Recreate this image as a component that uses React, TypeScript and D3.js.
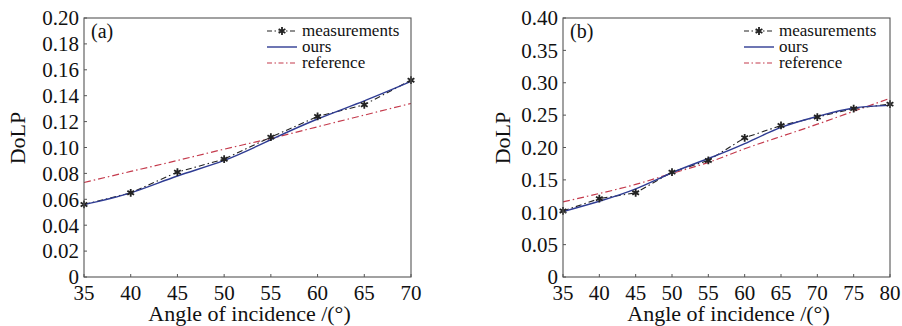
import React from 'react';
import * as d3 from 'd3';

// panel (a)
const anglesA = [35, 40, 45, 50, 55, 60, 65, 70];
const measA = [0.056, 0.065, 0.081, 0.091, 0.108, 0.124, 0.133, 0.152];
const oursA = [0.056, 0.065, 0.078, 0.09, 0.106, 0.122, 0.136, 0.151];
const refA = [0.073, 0.0815, 0.09, 0.0987, 0.107, 0.116, 0.125, 0.134];
const yTicksA = [0, 0.02, 0.04, 0.06, 0.08, 0.1, 0.12, 0.14, 0.16, 0.18, 0.2];

// panel (b)
const anglesB = [35, 40, 45, 50, 55, 60, 65, 70, 75, 80];
const measB = [0.102, 0.121, 0.13, 0.162, 0.18, 0.215, 0.234, 0.247, 0.26, 0.267];
const oursB = [0.101, 0.117, 0.136, 0.161, 0.183, 0.206, 0.231, 0.248, 0.261, 0.265];
const refB = [0.116, 0.129, 0.143, 0.16, 0.177, 0.198, 0.217, 0.236, 0.256, 0.276];
const yTicksB = [0, 0.05, 0.1, 0.15, 0.2, 0.25, 0.3, 0.35, 0.4];

const seriesNames = ['measurements', 'ours', 'reference'];

const FONT = 'Liberation Serif';
const BLUE = '#2f3c93';
const RED = '#c43a4c';
const BLACK = '#222';
const AXIS = '#555';
const TEXT = '#111';

interface PanelProps {
  label: string;
  angles: number[];
  meas: number[];
  ours: number[];
  refv: number[];
  yTicks: number[];
  left: number;
  right: number;
  titleX: number;
  legendX: number;
}

const Panel: React.FC<PanelProps> = ({ label, angles, meas, ours, refv, yTicks, left, right, titleX, legendX }) => {
  const top = 18;
  const bottom = 277;
  const x = d3.scaleLinear().domain([angles[0], angles[angles.length - 1]]).range([left, right]);
  const y = d3.scaleLinear().domain([yTicks[0], yTicks[yTicks.length - 1]]).range([bottom, top]);

  const pts = (vals: number[]) => angles.map((a, i) => [a, vals[i]] as [number, number]);
  const straight = d3.line<[number, number]>().x(d => x(d[0])).y(d => y(d[1]));
  const smooth = d3.line<[number, number]>().x(d => x(d[0])).y(d => y(d[1])).curve(d3.curveNatural);
  const star = d3.symbol().type(d3.symbolAsterisk).size(42)();

  const legendY = [31, 47, 63];

  return (
    <g style={{ fontFamily: FONT }}>
      {/* curves */}
      <path d={smooth(pts(refv)) || ''} fill="none" stroke={RED} strokeWidth={1.2} strokeDasharray="7,3,1.5,3" />
      <path d={straight(pts(meas)) || ''} fill="none" stroke={BLACK} strokeWidth={1.1} strokeDasharray="6,3,1.5,3" />
      <path d={smooth(pts(ours)) || ''} fill="none" stroke={BLUE} strokeWidth={1.4} />
      {angles.map((a, i) => (
        <path key={i} d={star || ''} transform={`translate(${x(a)},${y(meas[i])})`} fill="none" stroke={BLACK} strokeWidth={1.8} />
      ))}

      {/* frame */}
      <rect x={left} y={top} width={right - left} height={bottom - top} fill="none" stroke={AXIS} strokeWidth={1.1} />

      {/* y ticks */}
      {yTicks.map((t, i) => (
        <g key={i}>
          <line x1={left} x2={left + 3} y1={y(t)} y2={y(t)} stroke={AXIS} strokeWidth={1} />
          <text x={left - 5} y={y(t)} dy="0.35em" textAnchor="end" fontSize={21} fill={TEXT}>
            {t === 0 ? '0' : t.toFixed(2)}
          </text>
        </g>
      ))}

      {/* x ticks */}
      {angles.map((a, i) => (
        <g key={i}>
          <line x1={x(a)} x2={x(a)} y1={bottom} y2={bottom - 3} stroke={AXIS} strokeWidth={1} />
          <text x={x(a)} y={300} textAnchor="middle" fontSize={21} fill={TEXT}>
            {a}
          </text>
        </g>
      ))}

      <text x={(left + right) / 2 + 2} y={321} textAnchor="middle" fontSize={22} fill={TEXT}>
        Angle of incidence /(°)
      </text>
      <text transform={`translate(${titleX},138) rotate(-90)`} textAnchor="middle" fontSize={22} fill={TEXT}>
        DoLP
      </text>

      <text x={left + 7} y={38} fontSize={20} fill={TEXT}>{label}</text>

      {/* legend */}
      {seriesNames.map((name, i) => (
        <g key={name}>
          <line
            x1={legendX}
            x2={legendX + 30}
            y1={legendY[i]}
            y2={legendY[i]}
            stroke={i === 0 ? BLACK : i === 1 ? BLUE : RED}
            strokeWidth={i === 1 ? 1.4 : 1.1}
            strokeDasharray={i === 1 ? undefined : '5,2.5,1.5,2.5'}
          />
          {i === 0 && (
            <path d={star || ''} transform={`translate(${legendX + 15},${legendY[i]})`} fill="none" stroke={BLACK} strokeWidth={1.8} />
          )}
          <text x={legendX + 35} y={legendY[i]} dy="0.3em" fontSize={17} fill={TEXT}>
            {name}
          </text>
        </g>
      ))}
    </g>
  );
};

const App: React.FC = () => (
  <svg width={902} height={326} style={{ position: 'absolute', left: 0, top: 0, background: '#fff' }}>
    <rect width={902} height={326} fill="#fff" />
    <Panel label="(a)" angles={anglesA} meas={measA} ours={oursA} refv={refA} yTicks={yTicksA}
      left={84} right={411} titleX={25} legendX={267} />
    <Panel label="(b)" angles={anglesB} meas={measB} ours={oursB} refv={refB} yTicks={yTicksB}
      left={563} right={890} titleX={510} legendX={744} />
  </svg>
);

export default App;
